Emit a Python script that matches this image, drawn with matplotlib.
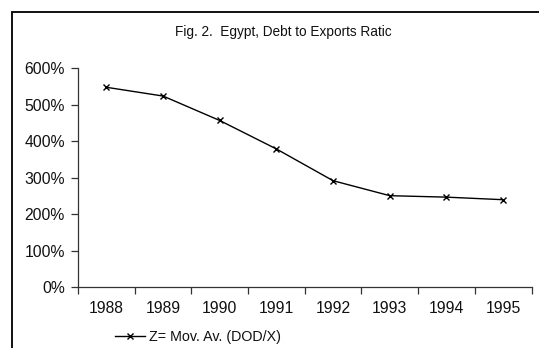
import matplotlib
matplotlib.use("Agg")
import matplotlib.pyplot as plt
from matplotlib.patches import Rectangle
from matplotlib.ticker import FixedLocator, FuncFormatter

plt.rcParams['font.family'] = ['Liberation Sans', 'DejaVu Sans']

years = ['1988', '1989', '1990', '1991', '1992', '1993', '1994', '1995']
ratio = [5.48, 5.24, 4.57, 3.79, 2.92, 2.51, 2.47, 2.40]
y_ticks = [0, 1, 2, 3, 4, 5, 6]
title = 'Fig. 2.  Egypt, Debt to Exports Ratic'
series_label = 'Z= Mov. Av. (DOD/X)'

W, H = 539, 348
fig = plt.figure(figsize=(W / 100, H / 100), dpi=100)
fig.patch.set_facecolor('white')

# outer chart frame (runs off the right and bottom edges)
fig.add_artist(Rectangle((12 / W, -0.2), 2.0, (H - 11.5) / H + 0.2,
                         transform=fig.transFigure, fill=False,
                         edgecolor='#111111', linewidth=1.4, clip_on=False))

ax = fig.add_axes([78 / W, 1 - 287.3 / H, (531.5 - 78) / W, (287.3 - 68.3) / H])
x = list(range(len(years)))
line, = ax.plot(x, ratio, color='black', linewidth=1.0, marker='x',
                markersize=5, markeredgewidth=1.0, label=series_label)

ax.set_xlim(-0.5, len(years) - 0.5)
ax.set_ylim(0, 6)
for s in ('top', 'right'):
    ax.spines[s].set_visible(False)
for s in ('left', 'bottom'):
    ax.spines[s].set_color('#333333')
    ax.spines[s].set_linewidth(0.9)

ax.yaxis.set_major_locator(FixedLocator(y_ticks))
ax.yaxis.set_major_formatter(FuncFormatter(lambda v, p: f'{int(round(v * 100))}%'))
ax.tick_params(axis='y', length=5, width=0.9, color='#333333', pad=4.5,
               labelsize=11.3, labelcolor='#111111')

ax.xaxis.set_major_locator(FixedLocator([i - 0.5 for i in range(len(years) + 1)]))
ax.xaxis.set_major_formatter(FuncFormatter(lambda v, p: ''))
ax.xaxis.set_minor_locator(FixedLocator(x))
ax.set_xticklabels(years, minor=True)
ax.tick_params(axis='x', which='major', length=5, width=0.9, color='#333333')
ax.tick_params(axis='x', which='minor', length=0, pad=10, labelsize=11.3,
               labelcolor='#111111')

fig.text(283.5 / W, 1 - 32 / H, title, ha='center', va='center',
         fontsize=9.8, color='#111111')

fig.legend(handles=[line], loc='center left',
           bbox_to_anchor=(115 / W, 1 - 337.5 / H), frameon=False,
           fontsize=10.3, handlelength=2.1, handletextpad=0.3,
           borderpad=0, borderaxespad=0, labelcolor='#111111')

fig.savefig('out.png', dpi=100)
